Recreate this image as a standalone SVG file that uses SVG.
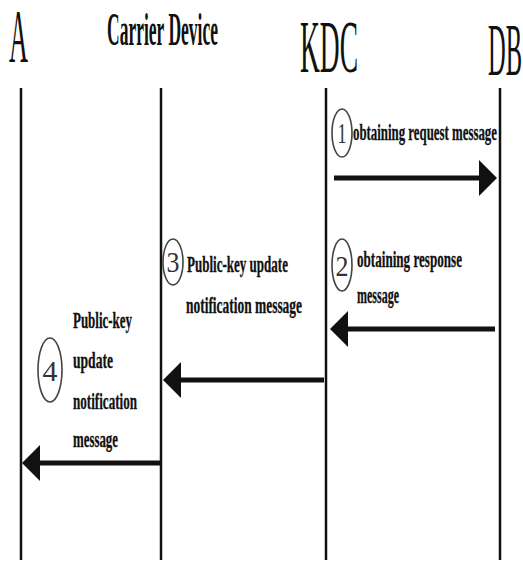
<svg xmlns="http://www.w3.org/2000/svg" width="523" height="568" viewBox="0 0 523 568">
  <style>
    .head { font-family: "Liberation Serif", serif; fill: #111; }
    .lbl { font-family: "Liberation Serif", serif; font-weight: bold; font-size: 23px; fill: #111; stroke: #111; stroke-width: 0.3; }
    .num { font-family: "Liberation Serif", serif; font-size: 30px; fill: #333; text-anchor: middle; }
    .ring { fill: none; stroke: #444; stroke-width: 1.6; }
    .life { stroke: #111; stroke-width: 2.5; }
    .msg { stroke: #111; stroke-width: 5; fill: none; marker-end: url(#tip); }
  </style>
  <defs>
    <marker id="tip" viewBox="0 0 18 40" refX="2" refY="20" markerWidth="18" markerHeight="40" markerUnits="userSpaceOnUse" orient="auto">
      <path d="M0,2 L18,20 L0,38 Z" fill="#111"/>
    </marker>
  </defs>
  <rect width="523" height="568" fill="#fff"/>

  <!-- participants -->
  <g id="A">
    <text class="head" x="9" y="62" font-size="76" textLength="19" lengthAdjust="spacingAndGlyphs">A</text>
    <line class="life" x1="21" y1="88" x2="21" y2="560"/>
  </g>
  <g id="carrier">
    <text class="head" x="107" y="45" font-size="46" font-weight="bold" textLength="111" lengthAdjust="spacingAndGlyphs">Carrier Device</text>
    <line class="life" x1="161" y1="88" x2="161" y2="560"/>
  </g>
  <g id="KDC">
    <text class="head" x="300" y="72" font-size="74" textLength="58" lengthAdjust="spacingAndGlyphs">KDC</text>
    <line class="life" x1="326" y1="88" x2="326" y2="560"/>
  </g>
  <g id="DB">
    <text class="head" x="488" y="75" font-size="74" textLength="34" lengthAdjust="spacingAndGlyphs">DB</text>
    <line class="life" x1="500" y1="88" x2="500" y2="560"/>
  </g>

  <!-- messages -->
  <g id="connectors">
    <line class="msg" x1="334" y1="178" x2="481" y2="178"/>
    <line class="msg" x1="495" y1="329" x2="346" y2="329"/>
    <line class="msg" x1="324" y1="380" x2="179" y2="380" stroke="#333"/>
    <line class="msg" x1="161" y1="463" x2="38" y2="463"/>
  </g>

  <!-- message labels -->
  <g id="label1">
    <ellipse class="ring" cx="342" cy="133" rx="10" ry="24"/>
    <text class="num" x="342" y="143" textLength="9" lengthAdjust="spacingAndGlyphs">1</text>
    <text class="lbl" x="353" y="140" textLength="144" lengthAdjust="spacingAndGlyphs">obtaining request message</text>
  </g>
  <g id="label2">
    <ellipse class="ring" cx="342" cy="265" rx="10" ry="26"/>
    <text class="num" x="342" y="276" textLength="13" lengthAdjust="spacingAndGlyphs">2</text>
    <text class="lbl" x="357" y="267" textLength="105" lengthAdjust="spacingAndGlyphs">obtaining response</text>
    <text class="lbl" x="357" y="303" textLength="42" lengthAdjust="spacingAndGlyphs">message</text>
  </g>
  <g id="label3">
    <ellipse class="ring" cx="173" cy="262" rx="10" ry="23"/>
    <text class="num" x="173" y="272" textLength="13" lengthAdjust="spacingAndGlyphs">3</text>
    <text class="lbl" x="187" y="272" textLength="101" lengthAdjust="spacingAndGlyphs">Public-key update</text>
    <text class="lbl" x="186" y="313" textLength="116" lengthAdjust="spacingAndGlyphs">notification message</text>
  </g>
  <g id="label4">
    <ellipse class="ring" cx="50" cy="370" rx="12" ry="32"/>
    <text class="num" x="50" y="381" font-size="34" textLength="15" lengthAdjust="spacingAndGlyphs">4</text>
    <text class="lbl" x="73" y="328" textLength="59" lengthAdjust="spacingAndGlyphs">Public-key</text>
    <text class="lbl" x="73" y="368" textLength="40" lengthAdjust="spacingAndGlyphs">update</text>
    <text class="lbl" x="73" y="409" textLength="64" lengthAdjust="spacingAndGlyphs">notification</text>
    <text class="lbl" x="73" y="447" textLength="45" lengthAdjust="spacingAndGlyphs">message</text>
  </g>
</svg>
